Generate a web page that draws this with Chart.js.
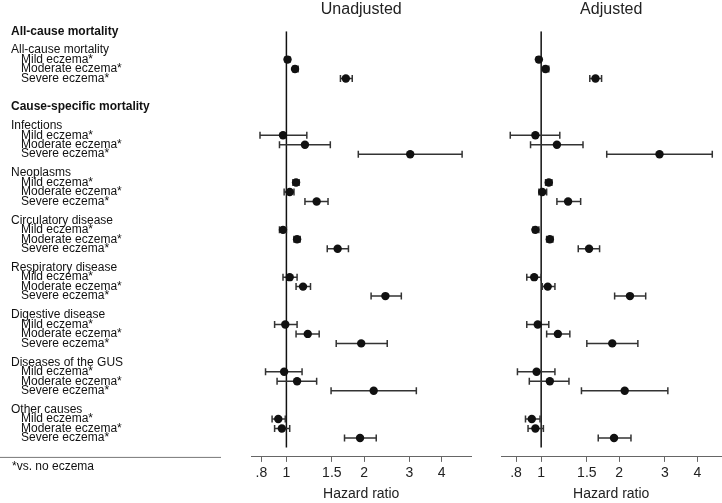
<!DOCTYPE html>
<html>
<head>
<meta charset="utf-8">
<script src="https://cdn.jsdelivr.net/npm/chart.js@4/dist/chart.umd.min.js"></script>
<style>
  body { margin: 0; background: #fff; }
  #wrap { position: relative; width: 722px; height: 503px; overflow: hidden; }
  canvas { position: absolute; top: 0; }
  #left { left: 0; }
  #right { left: 481px; }
</style>
</head>
<body>
<div id="wrap">
  <canvas id="left" width="477" height="503"></canvas>
  <canvas id="right" width="246" height="503"></canvas>
</div>
<script>
const sections = ["All-cause mortality", "Cause-specific mortality"];
const causes = ["All-cause mortality", "Infections", "Neoplasms", "Circulatory disease",
  "Respiratory disease", "Digestive disease", "Diseases of the GUS", "Other causes"];
const levels = ["Mild eczema*", "Moderate eczema*", "Severe eczema*"];

// hazard ratios and 95% CI, 3 per cause (mild, moderate, severe)
const hrUnadj = [1.01, 1.08, 1.70,  0.97, 1.18, 3.02,  1.09, 1.03, 1.31,  0.97, 1.10, 1.58,
                 1.03, 1.16, 2.42,  0.99, 1.21, 1.95,  0.98, 1.10, 2.18,  0.93, 0.96, 1.93];
const loUnadj = [0.99, 1.06, 1.62,  0.79, 0.94, 1.90,  1.06, 0.98, 1.18,  0.94, 1.07, 1.44,
                 0.97, 1.09, 2.13,  0.90, 1.09, 1.56,  0.83, 0.92, 1.49,  0.88, 0.90, 1.68];
const hiUnadj = [1.03, 1.11, 1.80,  1.20, 1.48, 4.80,  1.12, 1.07, 1.45,  1.00, 1.13, 1.74,
                 1.10, 1.24, 2.79,  1.10, 1.34, 2.46,  1.15, 1.31, 3.19,  0.99, 1.03, 2.23];

const hrAdj = [0.98, 1.04, 1.62,  0.95, 1.15, 2.86,  1.07, 1.01, 1.27,  0.95, 1.08, 1.53,
               0.94, 1.06, 2.20,  0.97, 1.16, 1.88,  0.96, 1.08, 2.10,  0.92, 0.95, 1.91];
const loAdj = [0.96, 1.02, 1.54,  0.76, 0.91, 1.79,  1.04, 0.98, 1.15,  0.93, 1.05, 1.39,
               0.88, 1.01, 1.92,  0.88, 1.05, 1.50,  0.81, 0.90, 1.43,  0.87, 0.89, 1.66];
const hiAdj = [0.99, 1.07, 1.71,  1.18, 1.45, 4.57,  1.10, 1.05, 1.42,  0.98, 1.11, 1.68,
               1.00, 1.13, 2.53,  1.07, 1.29, 2.36,  1.13, 1.28, 3.08,  0.99, 1.02, 2.22];

const xTicks = [0.8, 1, 1.5, 2, 3, 4];
const footnote = "*vs. no eczema";

const FONT = "'Liberation Sans', Arial, Helvetica, sans-serif";

// build the row list: section headers, cause headers, eczema levels, blanks
const rowLabels = [];
const boldRows = [];
const itemRows = [];
function addRow(text, bold) {
  if (bold) boldRows.push(rowLabels.length);
  rowLabels.push(text);
  return rowLabels.length - 1;
}
causes.forEach((c, ci) => {
  if (ci === 0) { addRow(sections[0], true); addRow(""); }
  if (ci === 1) { addRow(""); addRow(sections[1], true); addRow(""); }
  addRow(c);
  levels.forEach(l => itemRows.push(addRow("   " + l)));
  addRow("");
});
const yMax = rowLabels.length;

function buildDatasets(hr, lo, hi) {
  const points = hr.map((v, i) => ({ x: v, y: itemRows[i] }));
  const ci = [];
  const caps = [];
  hr.forEach((v, i) => {
    ci.push({ x: lo[i], y: itemRows[i] }, { x: hi[i], y: itemRows[i] }, { x: null, y: null });
    caps.push({ x: lo[i], y: itemRows[i] }, { x: hi[i], y: itemRows[i] });
  });
  return [
    { type: 'scatter', data: points, backgroundColor: '#111', borderColor: '#111',
      pointRadius: 4.2, pointBorderWidth: 0 },
    { type: 'scatter', data: caps, pointStyle: 'line', rotation: 90, pointRadius: 3.5,
      borderColor: '#333', pointBorderWidth: 1.5 },
    { type: 'line', data: ci, borderColor: '#333', borderWidth: 1.5, pointRadius: 0, spanGaps: false },
    { type: 'line', data: [{ x: 1, y: 0 }, { x: 1, y: yMax - 1 }], borderColor: '#111',
      borderWidth: 1.5, pointRadius: 0 }
  ];
}

function xScale(min, max) {
  return {
    type: 'logarithmic', position: 'bottom', min, max, bounds: 'data',
    afterBuildTicks: s => { s.ticks = xTicks.map(v => ({ value: v })); },
    ticks: {
      autoSkip: false, maxRotation: 0, padding: 3, color: '#222',
      font: { family: FONT, size: 14 },
      callback: v => (v < 1 ? String(v).replace(/^0/, '') : String(v))
    },
    grid: { drawOnChartArea: false, drawTicks: true, tickLength: 5, color: '#666' },
    border: { display: true, color: '#666', width: 1 },
    title: { display: true, text: 'Hazard ratio', color: '#222', font: { family: FONT, size: 14 },
      padding: { top: 1.5, bottom: 0 } }
  };
}

function labelFont(c) {
  const bold = c && c.tick && boldRows.includes(c.tick.value);
  return { family: FONT, size: 12, weight: bold ? 'bold' : 'normal' };
}

function chartOptions(title, min, max, showLabels, padLeft) {
  return {
    responsive: false, animation: false,
    layout: { padding: { left: padLeft, right: 0, top: 0, bottom: 0 } },
    plugins: {
      legend: { display: false }, tooltip: { enabled: false },
      title: { display: true, text: title, fullSize: false, color: '#222',
        font: { family: FONT, size: 16, weight: 'normal' }, padding: { top: 0, bottom: 12 } }
    },
    scales: {
      x: xScale(min, max),
      y: {
        type: 'linear', reverse: true, min: 0, max: yMax, display: showLabels,
        afterFit: s => { if (showLabels) s.width = 240; },
        ticks: {
          stepSize: 1, autoSkip: false, crossAlign: 'far', color: '#111',
          font: labelFont,
          callback: v => rowLabels[v] || ''
        },
        grid: { display: false },
        border: { display: false }
      }
    }
  };
}

// separator line and footnote under the labels
const footnotePlugin = {
  id: 'footnote',
  afterDraw(chart) {
    const ctx = chart.ctx;
    const y = chart.chartArea.bottom;
    ctx.save();
    ctx.strokeStyle = '#777';
    ctx.lineWidth = 1;
    ctx.beginPath();
    ctx.moveTo(0, y + 0.5);
    ctx.lineTo(221, y + 0.5);
    ctx.stroke();
    ctx.fillStyle = '#111';
    ctx.font = "12px " + FONT;
    ctx.textBaseline = 'middle';
    ctx.fillText(footnote, 12, y + 10);
    ctx.restore();
  }
};

new Chart(document.getElementById('left'), {
  type: 'scatter',
  data: { datasets: buildDatasets(hrUnadj, loUnadj, hiUnadj) },
  options: chartOptions('Unadjusted', 0.729, 5.22, true, 11),
  plugins: [footnotePlugin]
});

new Chart(document.getElementById('right'), {
  type: 'scatter',
  data: { datasets: buildDatasets(hrAdj, loAdj, hiAdj) },
  options: chartOptions('Adjusted', 0.70, 4.96, false, 20)
});
</script>
</body>
</html>
